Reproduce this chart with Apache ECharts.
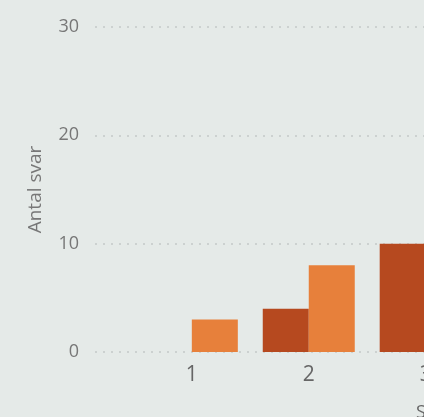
<!DOCTYPE html>
<html>
<head>
<meta charset="utf-8">
<script src="https://cdn.jsdelivr.net/npm/echarts@6/dist/echarts.min.js"></script>
<style>
  html, body { margin: 0; padding: 0; background: #e5eae8; overflow: hidden; }
  #chart { width: 773px; height: 417px; }
</style>
</head>
<body>
<div id="chart"></div>
<script>
// svar per kategori (bilden är beskuren till höger)
var categories = [1, 2, 3];
var darkValues = [0, 4, 10];
var lightValues = [3, 8, null];
var yTicks = [0, 10, 20, 30];

var chart = echarts.init(document.getElementById('chart'));

function pairs(vals) {
	var res = [];
	for (var i = 0; i < categories.length; i++) {
		if (vals[i] !== null) res.push([categories[i], vals[i]]);
	}
	return res;
}

var option = {
	backgroundColor: '#e5eae8',
	animation: false,
	textStyle: { fontFamily: 'Open Sans' },
	grid: { left: 95, right: 0, top: 27, bottom: 65, outerBoundsMode: 'none' },
	xAxis: {
		type: 'value',
		min: 0.172,
		max: 5.97,
		name: 'Svar',
		nameLocation: 'middle',
		nameGap: 52,
		nameTextStyle: { color: '#666', fontSize: 18 },
		axisLine: { show: false },
		axisTick: { show: false },
		splitLine: { show: false },
		axisLabel: {
			customValues: categories,
			color: '#666',
			fontSize: 21,
			margin: 13
		}
	},
	yAxis: {
		type: 'value',
		min: yTicks[0],
		max: yTicks[yTicks.length - 1],
		interval: 10,
		name: 'Antal svar',
		nameLocation: 'middle',
		nameGap: 50,
		nameTextStyle: { color: '#777', fontSize: 19 },
		axisLine: { show: false },
		axisTick: { show: false },
		axisLabel: { color: '#777', fontSize: 18, margin: 16 },
		splitLine: {
			lineStyle: { color: '#c4c9c8', type: [2, 6], width: 1.5 }
		}
	},
	series: [{
		type: 'bar',
		barWidth: 46,
		barGap: '0%',
		itemStyle: { color: '#b6491f' },
		data: pairs(darkValues)
	}, {
		type: 'bar',
		barWidth: 46,
		barGap: '0%',
		itemStyle: { color: '#e7803b' },
		data: pairs(lightValues)
	}]
};
chart.setOption(option);
</script>
</body>
</html>
